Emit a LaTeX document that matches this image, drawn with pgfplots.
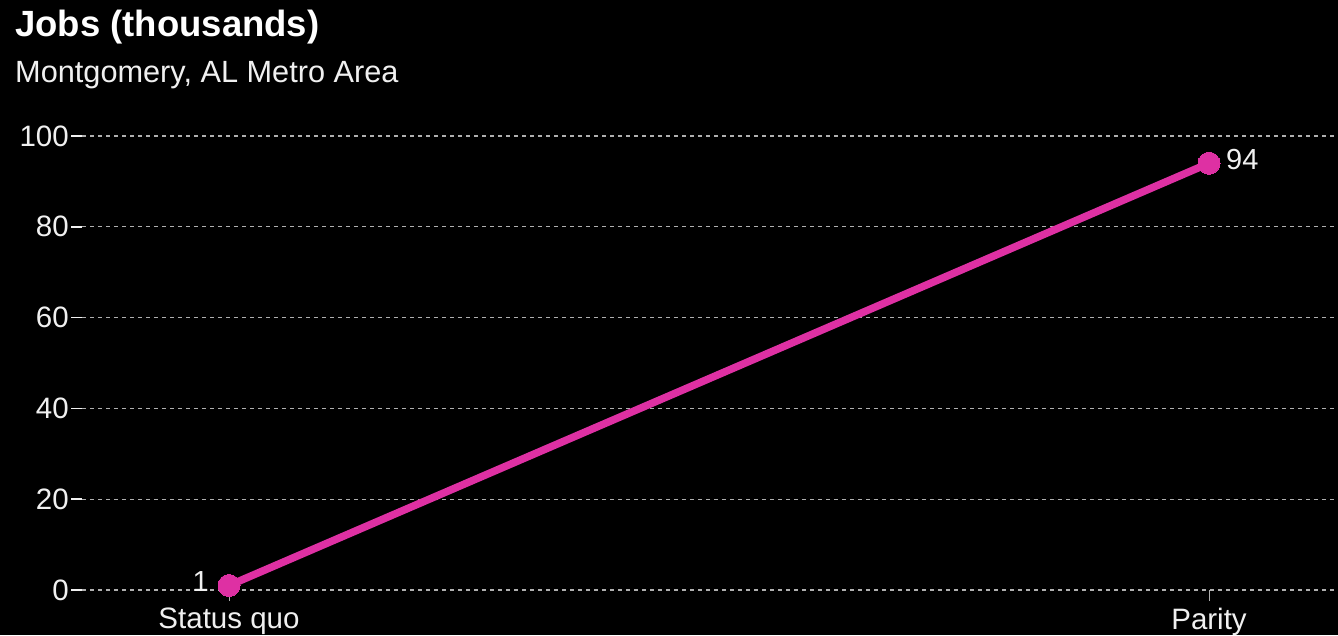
\documentclass[border=0pt]{standalone}
\usepackage{fontspec}
\setmainfont{Liberation Sans}
\usepackage{pgfplots}
\pgfplotsset{compat=1.18}
\pgfkeys{/pgf/number format/assume math mode=true}
\definecolor{pinkline}{RGB}{222,48,163}
\definecolor{gridc}{RGB}{175,175,175}
\definecolor{txt}{RGB}{240,240,240}
\begin{document}
\begin{tikzpicture}[x=1pt,y=1pt]
\fill[black] (0,0) rectangle (1338,635);
\useasboundingbox (0,0) rectangle (1338,635);
\node[anchor=base west, text=white, font=\fontsize{36.5}{44}\selectfont\bfseries, inner sep=0pt] at (15,598) {Jobs (thousands)};
\node[anchor=base west, text=txt, font=\fontsize{30.7}{37}\selectfont, inner sep=0pt] at (15,552) {Montgomery, AL Metro Area};
\begin{axis}[
  at={(82pt,45pt)}, anchor=south west,
  width=1256pt, height=454pt, scale only axis,
  xmin=-0.15, xmax=1.1316, ymin=0, ymax=100,
  clip=false,
  axis line style={draw=none},
  ytick={0,20,40,60,80,100},
  xtick={0,1}, xticklabels={Status quo, Parity},
  tick pos=left, tick align=outside,
  major tick length=11pt,
  y tick style={draw=txt, line width=1.8pt},
  x tick style={draw=gridc, line width=1pt},
  ymajorgrids,
  grid style={draw=gridc, line width=1.3pt, dash pattern=on 3.5pt off 4.5pt},
  ticklabel style={font=\fontsize{29.5}{35}\selectfont, text=txt},
  yticklabel style={inner sep=2pt},
  xticklabel style={inner sep=2pt, yshift=-5pt},
]
\addplot[pinkline, line width=7.5pt, mark=*, mark size=11pt,
  mark options={fill=pinkline, draw=pinkline, line width=0pt}]
  coordinates {(0,1) (1,94)};
\addplot[draw=none, mark=none, nodes near coords, point meta=y,
  every node near coord/.append style={anchor=east, xshift=-20pt, yshift=4pt, inner sep=0pt,
    font=\fontsize{29}{35}\selectfont, text=txt}]
  coordinates {(0,1)};
\addplot[draw=none, mark=none, nodes near coords, point meta=y,
  every node near coord/.append style={anchor=west, xshift=17pt, yshift=4pt, inner sep=0pt,
    font=\fontsize{29}{35}\selectfont, text=txt}]
  coordinates {(1,94)};
\end{axis}
\end{tikzpicture}
\end{document}
